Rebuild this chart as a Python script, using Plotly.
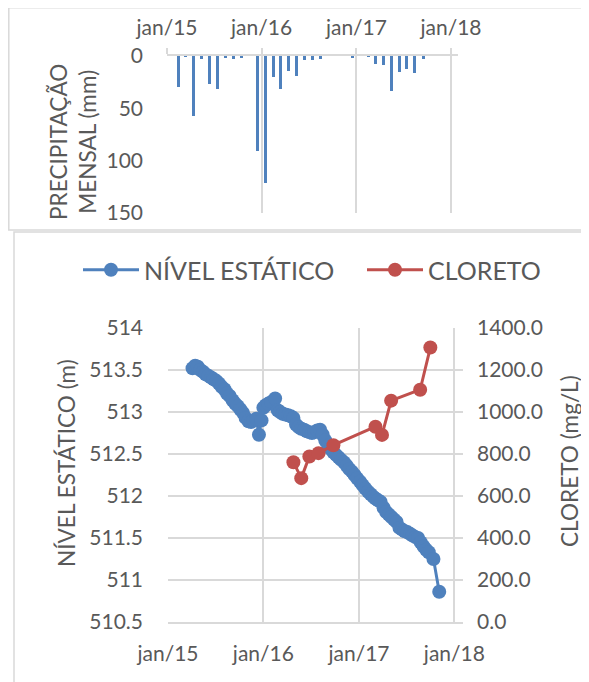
import plotly.graph_objects as go

# ---------------- data ----------------
precip_months = ["2015-02-15", "2015-03-15", "2015-04-15", "2015-05-15", "2015-06-15",
                 "2015-07-15", "2015-08-15", "2015-09-15", "2015-10-15", "2015-12-15",
                 "2016-01-15", "2016-02-15", "2016-03-15", "2016-04-15", "2016-05-15",
                 "2016-06-15", "2016-07-15", "2016-08-15", "2016-12-15", "2017-02-15",
                 "2017-03-15", "2017-04-15", "2017-05-15", "2017-06-15", "2017-07-15",
                 "2017-08-15", "2017-09-15"]
precip_mm = [30, 0.6, 57, 2.5, 27, 32, 1.8, 2.8, 1, 91,
             121, 20.5, 32, 14.5, 19, 3.5, 3.5, 3, 1.5, 0.8,
             8, 8.3, 33, 15.4, 12.5, 16.3, 2.5]

nivel_dates = ["2015-04-05", "2015-04-15", "2015-04-25", "2015-05-05", "2015-05-15", "2015-05-25",
               "2015-06-05", "2015-06-15", "2015-06-25", "2015-07-05", "2015-07-15", "2015-07-25",
               "2015-08-05", "2015-08-15", "2015-08-25", "2015-09-05", "2015-09-15", "2015-09-25",
               "2015-10-05", "2015-10-15", "2015-10-25", "2015-11-05", "2015-11-15", "2015-11-25",
               "2015-12-05", "2015-12-15", "2015-12-25", "2016-01-01", "2016-01-10", "2016-01-20",
               "2016-02-01", "2016-02-15", "2016-02-25", "2016-03-05", "2016-03-15", "2016-03-25",
               "2016-04-05", "2016-04-15", "2016-04-25", "2016-05-05", "2016-05-15", "2016-05-25",
               "2016-06-05", "2016-06-15", "2016-06-25", "2016-07-05", "2016-07-15", "2016-07-25",
               "2016-08-05", "2016-08-15", "2016-08-25", "2016-09-05", "2016-09-15", "2016-09-25",
               "2016-10-05", "2016-10-15", "2016-10-25", "2016-11-05", "2016-11-15", "2016-11-25",
               "2016-12-05", "2016-12-15", "2016-12-25", "2017-01-05", "2017-01-15", "2017-01-25",
               "2017-02-05", "2017-02-15", "2017-02-25", "2017-03-05", "2017-03-15", "2017-03-25",
               "2017-04-05", "2017-04-15", "2017-04-25", "2017-05-05", "2017-05-15", "2017-05-25",
               "2017-06-05", "2017-06-15", "2017-06-25", "2017-07-05", "2017-07-15", "2017-07-25",
               "2017-08-05", "2017-08-15", "2017-08-25", "2017-09-05", "2017-09-15", "2017-09-25",
               "2017-10-13", "2017-11-04"]
nivel_m = [513.52, 513.55, 513.54, 513.50, 513.48, 513.45,
           513.43, 513.41, 513.39, 513.37, 513.34, 513.30,
           513.27, 513.22, 513.19, 513.14, 513.10, 513.07,
           513.03, 512.99, 512.93, 512.89, 512.88, 512.90,
           512.92, 512.73, 512.90, 513.05, 513.08, 513.10,
           513.12, 513.16, 513.02, 513.00, 512.98, 512.97,
           512.96, 512.95, 512.93, 512.85, 512.82, 512.80,
           512.79, 512.77, 512.76, 512.75, 512.76, 512.78,
           512.79, 512.73, 512.66, 512.60, 512.56, 512.52,
           512.49, 512.46, 512.43, 512.40, 512.36, 512.32,
           512.29, 512.25, 512.21, 512.17, 512.13, 512.09,
           512.05, 512.02, 511.99, 511.97, 511.95, 511.93,
           511.86, 511.81, 511.78, 511.75, 511.72, 511.69,
           511.62, 511.60, 511.58, 511.57, 511.55, 511.53,
           511.51, 511.50, 511.45, 511.40, 511.36, 511.33,
           511.25, 510.86]

cloreto_dates = ["2016-04-25", "2016-05-25", "2016-06-25", "2016-07-30", "2016-09-25",
                 "2017-03-05", "2017-03-30", "2017-05-04", "2017-08-23", "2017-10-01"]
cloreto_mgl = [761, 685, 788, 804, 842, 930, 891, 1054, 1106, 1307]

year_ticks = ["2015-01-01", "2016-01-01", "2017-01-01", "2018-01-01"]
year_labels = ["jan/15", "jan/16", "jan/17", "jan/18"]
precip_ticks = [0, 50, 100, 150]
nivel_ticks = [510.5, 511, 511.5, 512, 512.5, 513, 513.5, 514]
nivel_labels = ["510.5", "511", "511.5", "512", "512.5", "513", "513.5", "514"]
cloreto_ticks = [0, 200, 400, 600, 800, 1000, 1200, 1400]

# ---------------- styling ----------------
# The page body adds an 8px margin, so the figure is drawn 8px smaller and
# every target pixel position is shifted by that offset.
OFF = 8
W, H = 589 - OFF, 682 - OFF
FONT = "Lato"
TXT = "#595959"
GRID = "#d9d9d9"
BLUE = "#4f81bd"
RED = "#c0504d"
TICK_SIZE = 21
TITLE_SIZE = 22.6


def px(x):
    return (x - OFF) / W


def py(y):
    return 1 - (y - OFF) / H


fig = go.Figure()

fig.add_trace(go.Bar(x=precip_months, y=precip_mm, marker=dict(color=BLUE, line=dict(width=0)),
                     width=1.0e9, xaxis="x", yaxis="y", showlegend=False))

fig.add_trace(go.Scatter(x=nivel_dates, y=nivel_m, mode="lines+markers", name="NÍVEL ESTÁTICO",
                         line=dict(color=BLUE, width=3), marker=dict(color=BLUE, size=14),
                         xaxis="x2", yaxis="y2", legend="legend"))
fig.add_trace(go.Scatter(x=cloreto_dates, y=cloreto_mgl, mode="lines+markers", name="CLORETO",
                         line=dict(color=RED, width=3), marker=dict(color=RED, size=14),
                         xaxis="x2", yaxis="y3", legend="legend2"))

tickfont = dict(family=FONT, size=TICK_SIZE, color=TXT)
legend_common = dict(orientation="h", xanchor="left", yanchor="middle", y=py(270),
                     font=dict(family=FONT, size=25, color=TXT), bgcolor="rgba(0,0,0,0)",
                     itemwidth=56)

fig.update_layout(
    width=W, height=H,
    autosize=False,
    margin=dict(l=0, r=0, t=0, b=0, pad=0, autoexpand=False),
    paper_bgcolor="white", plot_bgcolor="rgba(0,0,0,0)",
    font=dict(family=FONT, color=TXT),
    bargap=0,
    xaxis=dict(domain=[px(167), px(458)], anchor="y", side="top", type="date",
               range=["2015-01-01", "2018-01-28"], tickvals=year_ticks, ticktext=year_labels,
               showgrid=True, gridcolor=GRID, gridwidth=1.5, showline=True, linecolor=GRID,
               linewidth=1.5, ticks="outside", ticklen=6, tickcolor=GRID, tickwidth=1.5,
               tickfont=tickfont, ticklabelstandoff=5, zeroline=False, automargin=False),
    yaxis=dict(domain=[py(213), py(56)], anchor="x", range=[150, 0], tickvals=precip_ticks,
               showgrid=False, zeroline=False, showline=False, tickfont=tickfont,
               ticklabelstandoff=23, automargin=False),
    xaxis2=dict(domain=[px(168), px(463)], anchor="y2", type="date",
                range=["2015-01-01", "2018-02-03"], tickvals=year_ticks, ticktext=year_labels,
                showgrid=True, gridcolor=GRID, gridwidth=1.5, showline=True, linecolor=GRID,
                linewidth=1.5, ticks="", tickfont=tickfont, ticklabelstandoff=12, zeroline=False,
                automargin=False),
    yaxis2=dict(domain=[py(622), py(328)], anchor="x2", range=[510.5, 514],
                tickvals=nivel_ticks, ticktext=nivel_labels, showgrid=True, gridcolor=GRID,
                gridwidth=1.5, zeroline=False, showline=False, tickfont=tickfont,
                ticklabelstandoff=24, automargin=False),
    yaxis3=dict(anchor="x2", overlaying="y2", side="right", range=[0, 1400],
                tickvals=cloreto_ticks, tickformat=".1f", showgrid=False, zeroline=False,
                showline=False, tickfont=tickfont, ticklabelstandoff=13, automargin=False),
    legend=dict(x=px(78), **legend_common),
    legend2=dict(x=px(362), **legend_common),
    shapes=[
        dict(type="rect", xref="paper", yref="paper", x0=px(8.8), x1=px(620), y0=py(230),
             y1=py(7.8), line=dict(color=GRID, width=1.5), fillcolor="rgba(0,0,0,0)",
             layer="below"),
        dict(type="rect", xref="paper", yref="paper", x0=px(14), x1=px(620), y0=py(720),
             y1=py(232), line=dict(color=GRID, width=1.5), fillcolor="rgba(0,0,0,0)",
             layer="below"),
    ],
    annotations=[
        dict(text="PRECIPITAÇÃO<br>MENSAL (mm)", x=px(73), y=py(142), xref="paper", yref="paper",
             textangle=-90, showarrow=False, font=dict(family=FONT, size=TITLE_SIZE, color=TXT),
             xanchor="center", yanchor="middle"),
        dict(text="NÍVEL ESTÁTICO (m)", x=px(66), y=py(463), xref="paper", yref="paper",
             textangle=-90, showarrow=False, font=dict(family=FONT, size=TITLE_SIZE, color=TXT),
             xanchor="center", yanchor="middle"),
        dict(text="CLORETO (mg/L)", x=px(570), y=py(461), xref="paper", yref="paper",
             textangle=-90, showarrow=False, font=dict(family=FONT, size=TITLE_SIZE, color=TXT),
             xanchor="center", yanchor="middle"),
    ],
)

fig.write_html("out.html")
